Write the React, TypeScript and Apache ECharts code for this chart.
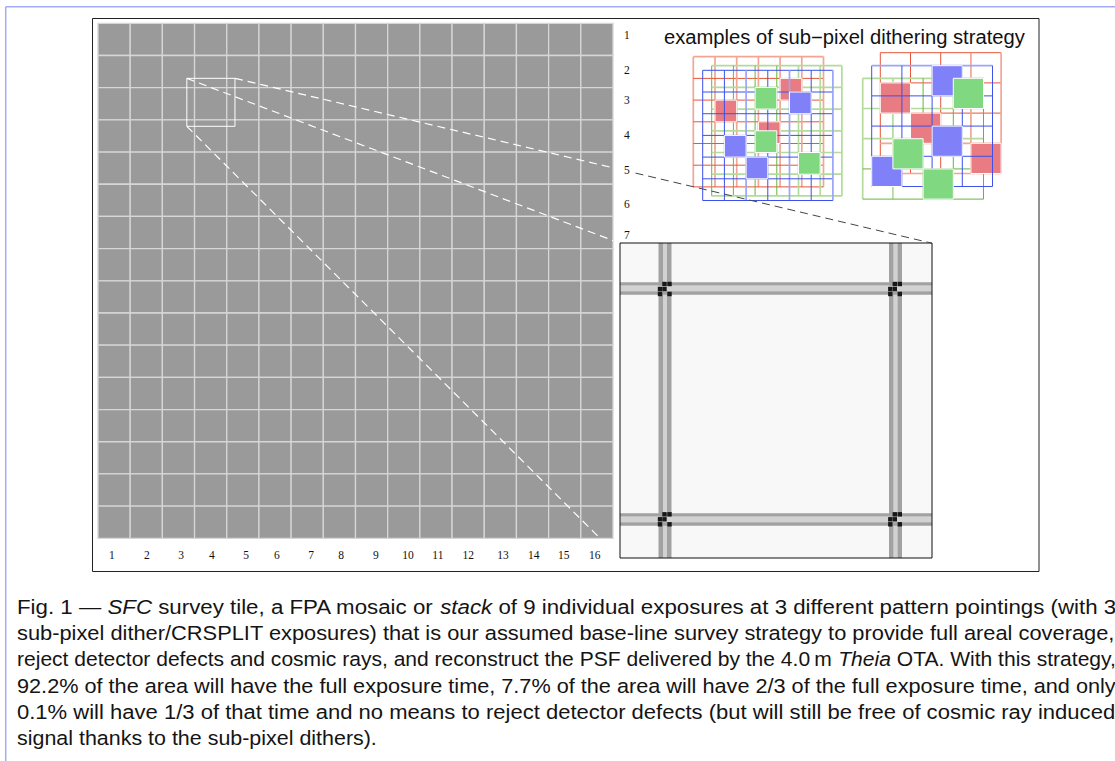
import React, { useEffect, useRef } from "react";
import * as echarts from "echarts";

// ---- mosaic ----
const mosaicCols = [0, 1, 2, 3, 4, 5, 6, 7, 8, 9, 10, 11, 12, 13, 14, 15];
const mosaicRows = [0, 1, 2, 3, 4, 5, 6, 7, 8, 9, 10, 11, 12, 13, 14, 15];
const bottomLabelPos = [0.43, 1.52, 2.58, 3.54, 4.6, 5.56, 6.62, 7.55, 8.63, 9.63, 10.56, 11.5, 12.58, 13.54, 14.47, 15.43];
const bottomLabels = ["1", "2", "3", "4", "5", "6", "7", "8", "9", "10", "11", "12", "13", "14", "15", "16"];
const sideLabelPos = [0.37, 1.46, 2.39, 3.48, 4.56, 5.6, 6.57];
const sideLabels = ["1", "2", "3", "4", "5", "6", "7"];
const zoomBox = [2.76, 1.71, 4.255, 3.2];
const insetCorners = [16.21, 6.83, 25.9, 16.61];

// ---- inset (one detector, axis units are its pixels) ----
const insetRange = [312, 315];
const insetBandsX = [38.5, 269];
const insetBandsY = [39.3, 270.3];
const insetStripeOffsets = [[0, 4.5], [8.5, 13]];
const insetStripeOffsetsY = [[0, 3.3], [9, 12.4]];
const insetDotsAnchorX = [40, 270.3];
const insetDotsAnchorY = [41, 271.3];
const insetDotOffsets = [[4.5, 0], [9.5, 0], [0, 5], [4.5, 5], [0, 10], [9.5, 10]];

// ---- dither panels ----
const leftRange = 7;
const leftCells = 6;
const leftOffsets = { red: [0, 0], blue: [0.433, 0.627], green: [0.848, 0.415] };
const leftRedSquares = [[1, 2], [4, 1], [3, 3]];
const leftBlueSquares = [[1, 3], [4, 1], [2, 4]];
const leftGreenSquares = [[2, 1], [2, 3], [4, 4]];
const leftSoft = {
  red: { v: [0, 1, 2, 3, 4, 5, 6], h: [0] },
  blue: { v: [2, 4, 6], h: [] as number[] },
  green: { v: [4, 5, 6], h: [0, 1, 2, 3, 4, 5, 6] },
};

const rightRange = 5;
const rightCells = 4;
const rightOffsets = { red: [0.583, 0], blue: [0.298, 0.43], green: [0, 0.848] };
const rightRedSquares = [[0, 1], [1, 2], [3, 3]];
const rightBlueSquares = [[2, 0], [2, 2], [0, 3]];
const rightGreenSquares = [[3, 0], [1, 2], [2, 3]];
const rightSoft = {
  red: { v: [3, 4], h: [3, 4] },
  blue: { v: [] as number[], h: [0] },
  green: { v: [0, 1], h: [0, 1, 2] },
};

// ---- text ----
const panelTitle = "examples of sub\u2212pixel dithering strategy";
const captionLines = [
  "Fig. 1 \u2014 {i|SFC} survey tile, a FPA mosaic or {i|stack} of 9 individual exposures at 3 different pattern pointings (with 3",
  "sub-pixel dither/CRSPLIT exposures) that is our assumed base-line survey strategy to provide full areal coverage,",
  "reject detector defects and cosmic rays, and reconstruct the PSF delivered by the 4.0\u2009m {i|Theia} OTA. With this strategy,",
  "92.2% of the area will have the full exposure time, 7.7% of the area will have 2/3 of the full exposure time, and only",
  "0.1% will have 1/3 of that time and no means to reject detector defects (but will still be free of cosmic ray induced",
  "signal thanks to the sub-pixel dithers).",
];
const captionRightEdges = [1116, 1116, 1116, 1116, 1116, 377];

// ---- styles ----
const SANS = "'Liberation Sans', Arial, sans-serif";
const SERIF = "'Liberation Serif', 'Times New Roman', serif";
const CAPTION_SIZE = 19.5;
const COLORS: any = {
  red: { sharp: "#e8553a", soft: "#f2a794", fill: "#e87c82" },
  blue: { sharp: "#3d50ea", soft: "#9aa6f6", fill: "#8080f8" },
  green: { sharp: "#68b43e", soft: "#b3dc9c", fill: "#80d880" },
};

type Seg = { p: number[]; color: string; width: number; dash?: number[] };
type Box = { p: number[]; fill: string; stroke?: string; width?: number };

function segSeries(grid: number, z: number, items: Seg[]) {
  return {
    type: "custom",
    coordinateSystem: "cartesian2d",
    xAxisIndex: grid,
    yAxisIndex: grid,
    z,
    silent: true,
    clip: false,
    data: items.map((s) => s.p),
    renderItem: (params: any, api: any) => {
      const s = items[params.dataIndex];
      const a = api.coord([api.value(0), api.value(1)]);
      const b = api.coord([api.value(2), api.value(3)]);
      return {
        type: "line",
        shape: { x1: a[0], y1: a[1], x2: b[0], y2: b[1] },
        style: { stroke: s.color, lineWidth: s.width, lineDash: s.dash || undefined, fill: "none" },
      };
    },
  };
}

function boxSeries(grid: number, z: number, items: Box[]) {
  return {
    type: "custom",
    coordinateSystem: "cartesian2d",
    xAxisIndex: grid,
    yAxisIndex: grid,
    z,
    silent: true,
    clip: false,
    data: items.map((s) => s.p),
    renderItem: (params: any, api: any) => {
      const s = items[params.dataIndex];
      const a = api.coord([api.value(0), api.value(1)]);
      const b = api.coord([api.value(2), api.value(3)]);
      return {
        type: "rect",
        shape: { x: Math.min(a[0], b[0]), y: Math.min(a[1], b[1]), width: Math.abs(a[0] - b[0]), height: Math.abs(a[1] - b[1]) },
        style: { fill: s.fill, stroke: s.stroke || "none", lineWidth: s.width || 0 },
      };
    },
  };
}

function gridLines(name: string, offset: number[], cells: number, soft: { v: number[]; h: number[] }): Seg[] {
  const out: Seg[] = [];
  const c = COLORS[name];
  for (let i = 0; i <= cells; i++) {
    const sv = soft.v.includes(i);
    const sh = soft.h.includes(i);
    out.push({ p: [offset[0] + i, offset[1], offset[0] + i, offset[1] + cells], color: sv ? c.soft : c.sharp, width: sv ? 1.7 : 1 });
    out.push({ p: [offset[0], offset[1] + i, offset[0] + cells, offset[1] + i], color: sh ? c.soft : c.sharp, width: sh ? 1.7 : 1 });
  }
  return out;
}

function squares(name: string, offset: number[], cells: number[][]): Box[] {
  return cells.map(([col, row]) => ({
    p: [offset[0] + col, offset[1] + row, offset[0] + col + 1, offset[1] + row + 1],
    fill: COLORS[name].fill,
    stroke: "#ffffff",
    width: 1,
  }));
}

function panelSeries(grid: number, off: any, cells: number, soft: any, red: number[][], blue: number[][], green: number[][]) {
  return [
    segSeries(grid, 3, gridLines("red", off.red, cells, soft.red)),
    segSeries(grid, 4, gridLines("green", off.green, cells, soft.green)),
    boxSeries(grid, 5, squares("red", off.red, red)),
    segSeries(grid, 6, gridLines("blue", off.blue, cells, soft.blue)),
    boxSeries(grid, 7, squares("blue", off.blue, blue)),
    boxSeries(grid, 8, squares("green", off.green, green)),
  ];
}

// split a dashed connector at the mosaic's right edge
function connector(from: number[], to: number[], split: number, white: boolean): Seg {
  const t = (split - from[0]) / (to[0] - from[0]);
  const mid = [split, from[1] + (to[1] - from[1]) * t];
  return white
    ? { p: [from[0], from[1], mid[0], mid[1]], color: "#ffffff", width: 1.2, dash: [8, 5] }
    : { p: [mid[0], mid[1], to[0], to[1]], color: "#444444", width: 1, dash: [8, 5] };
}

function measure(line: string, size: number) {
  const ctx = document.createElement("canvas").getContext("2d") as CanvasRenderingContext2D;
  let total = 0;
  line.split(/(\{i\|[^}]*\})/).forEach((part) => {
    const m = part.match(/^\{i\|([^}]*)\}$/);
    ctx.font = `${m ? "italic " : ""}${size}px ${SANS}`;
    total += ctx.measureText(m ? m[1] : part).width;
  });
  return total;
}

function buildOption() {
  const cells: Box[] = [];
  mosaicCols.forEach((c) =>
    mosaicRows.forEach((r) => cells.push({ p: [c, r, c + 1, r + 1], fill: "#9a9a9a", stroke: "#d6d6d6", width: 1.3 }))
  );

  const [bx0, by0, bx1, by1] = zoomBox;
  const [ix0, iy0, ix1, iy1] = insetCorners;
  const boxEdges: Seg[] = [
    { p: [bx0, by0, bx1, by0], color: "#ffffff", width: 1 },
    { p: [bx1, by0, bx1, by1], color: "#ffffff", width: 1 },
    { p: [bx1, by1, bx0, by1], color: "#ffffff", width: 1 },
    { p: [bx0, by1, bx0, by0], color: "#ffffff", width: 1 },
  ];
  const connectors: Seg[] = [
    connector([bx1, by0], [ix1, iy0], 16, true),
    connector([bx0, by0], [ix0, iy0], 16, true),
    connector([bx0, by1], [ix0, iy1], 16, true),
  ];
  const darkConnector: Seg[] = [connector([bx1, by0], [ix1, iy0], 16.7, false)];

  const [iw, ih] = insetRange;
  const insetBack: Box[] = [{ p: [0, 0, iw, ih], fill: "#f8f8f8" }];
  const stripes: Box[] = [];
  insetBandsX.forEach((x) => {
    stripes.push({ p: [x + insetStripeOffsets[0][1], 0, x + insetStripeOffsets[1][0], ih], fill: "#d2d2d2" });
    insetStripeOffsets.forEach(([a, b]) => stripes.push({ p: [x + a, 0, x + b, ih], fill: "#a2a2a2" }));
  });
  insetBandsY.forEach((y) => {
    stripes.push({ p: [0, y + insetStripeOffsetsY[0][1], iw, y + insetStripeOffsetsY[1][0]], fill: "#d2d2d2" });
    insetStripeOffsetsY.forEach(([a, b]) => stripes.push({ p: [0, y + a, iw, y + b], fill: "#a2a2a2" }));
  });
  const dots: Box[] = [];
  insetDotsAnchorX.forEach((ax) =>
    insetDotsAnchorY.forEach((ay) =>
      insetDotOffsets.forEach(([dx, dy]) => dots.push({ p: [ax + dx - 2.2, ay + dy - 2.2, ax + dx + 2.2, ay + dy + 2.2], fill: "#181818" }))
    )
  );
  const insetFrame: Box[] = [{ p: [0, 0, iw, ih], fill: "none", stroke: "#111111", width: 1 }];

  const caption = captionLines.map((line, i) => ({
    type: "text",
    x: 17,
    y: 606.7 + i * 26.3,
    scaleX: (captionRightEdges[i] - 17) / measure(line, CAPTION_SIZE),
    z: 20,
    style: {
      text: line,
      fontSize: CAPTION_SIZE,
      fontFamily: SANS,
      fill: "#141414",
      verticalAlign: "middle",
      align: "left",
      rich: { i: { fontStyle: "italic", fontSize: CAPTION_SIZE, fontFamily: SANS, fill: "#141414" } },
    },
  }));

  const hiddenAxis = (min: number, max: number, inverse = false) => ({
    type: "value",
    min,
    max,
    inverse,
    show: false,
  });

  return {
    animation: false,
    backgroundColor: "#ffffff",
    grid: [
      { left: 98, top: 23.3, width: 515, height: 515 },
      { left: 620, top: 243, width: 312, height: 315 },
      { left: 693.3, top: 56.7, width: 151.9, height: 151.9 },
      { left: 862.7, top: 52.7, width: 151, height: 151 },
    ],
    xAxis: [
      {
        type: "value",
        gridIndex: 0,
        min: 0,
        max: 16,
        position: "bottom",
        axisLine: { show: false },
        axisTick: { show: false },
        splitLine: { show: false },
        axisLabel: {
          customValues: bottomLabelPos,
          formatter: (v: number) => bottomLabels[bottomLabelPos.indexOf(v)],
          margin: 10.5,
          fontFamily: SERIF,
          fontSize: 11.5,
          color: "#111111",
          hideOverlap: false,
        },
      },
      { ...hiddenAxis(0, iw), gridIndex: 1 },
      { ...hiddenAxis(0, leftRange), gridIndex: 2 },
      { ...hiddenAxis(0, rightRange), gridIndex: 3 },
    ],
    yAxis: [
      {
        type: "value",
        gridIndex: 0,
        min: 0,
        max: 16,
        inverse: true,
        position: "right",
        axisLine: { show: false },
        axisTick: { show: false },
        splitLine: { show: false },
        axisLabel: {
          customValues: sideLabelPos,
          formatter: (v: number) => sideLabels[sideLabelPos.indexOf(v)],
          margin: 11,
          align: "left",
          fontFamily: SERIF,
          fontSize: 11.5,
          color: "#111111",
          hideOverlap: false,
        },
      },
      { ...hiddenAxis(0, ih, true), gridIndex: 1 },
      { ...hiddenAxis(0, leftRange, true), gridIndex: 2 },
      { ...hiddenAxis(0, rightRange, true), gridIndex: 3 },
    ],
    graphic: [
      { type: "line", shape: { x1: 5.7, y1: 6.7, x2: 1115, y2: 6.7 }, style: { stroke: "#a3aafc", lineWidth: 1.5 }, z: 1 },
      { type: "line", shape: { x1: 5.7, y1: 6.7, x2: 5.7, y2: 761 }, style: { stroke: "#a3aafc", lineWidth: 1.5 }, z: 1 },
      { type: "rect", shape: { x: 92.5, y: 18.5, width: 946.5, height: 553 }, style: { fill: "none", stroke: "#222222", lineWidth: 1 }, z: 1 },
      {
        type: "text",
        x: 664,
        y: 37,
        scaleX: 361 / measure(panelTitle, 19.5),
        z: 20,
        style: { text: panelTitle, fontSize: 19.5, fontFamily: SANS, fill: "#111111", verticalAlign: "middle", align: "left" },
      },
      ...caption,
    ],
    series: [
      boxSeries(0, 2, cells),
      ...panelSeries(2, leftOffsets, leftCells, leftSoft, leftRedSquares, leftBlueSquares, leftGreenSquares),
      ...panelSeries(3, rightOffsets, rightCells, rightSoft, rightRedSquares, rightBlueSquares, rightGreenSquares),
      boxSeries(1, 9, insetBack),
      boxSeries(1, 10, stripes),
      boxSeries(1, 11, dots),
      boxSeries(1, 12, insetFrame),
      segSeries(0, 13, boxEdges),
      segSeries(0, 13, connectors),
      segSeries(0, 13, darkConnector),
    ],
  };
}

export default function App() {
  const ref = useRef<HTMLDivElement>(null);
  useEffect(() => {
    const chart = echarts.init(ref.current as HTMLDivElement, undefined, { renderer: "svg" });
    chart.setOption(buildOption() as any);
    return () => chart.dispose();
  }, []);
  return <div ref={ref} style={{ position: "absolute", left: 0, top: 0, width: 1115, height: 761 }} />;
}
